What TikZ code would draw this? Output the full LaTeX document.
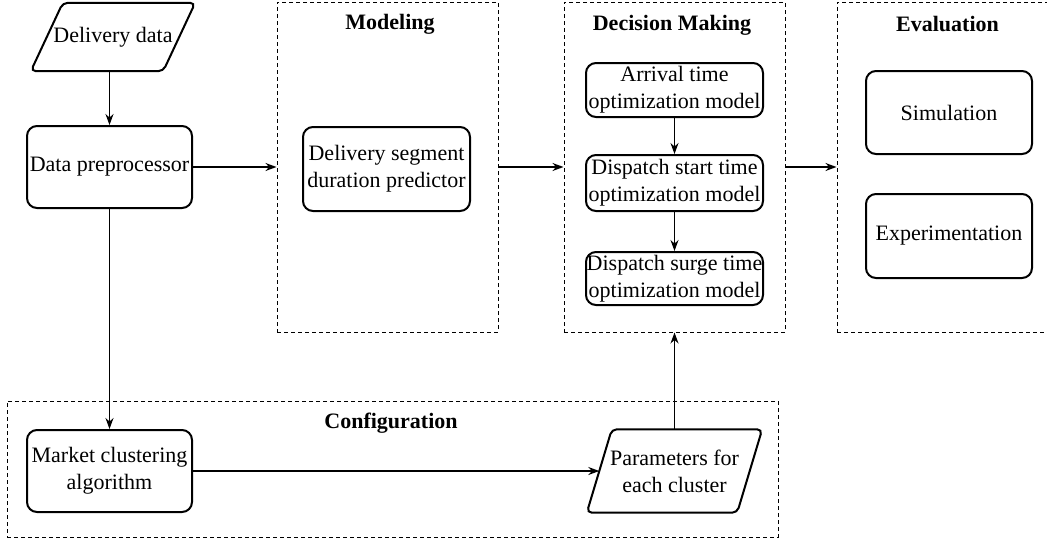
\documentclass[tikz,border=0pt]{standalone}
\usepackage{fontspec}
\setmainfont{Liberation Serif}
\usetikzlibrary{calc,arrows.meta}
\begin{document}
\begin{tikzpicture}[x=1pt,y=-1pt,
  every node/.style={font=\fontsize{22}{27}\selectfont, align=center, inner sep=0pt},
  procbox/.style={draw, line width=2pt, rounded corners=10pt},
  groupbox/.style={draw, dash pattern=on 4pt off 3pt, line width=1pt},
  titletext/.style={font=\fontsize{22}{27}\selectfont\bfseries},
  arr/.style={-{Stealth[length=11pt,width=8pt]}, line width=1.3pt},
  para/.style={line width=2pt, rounded corners=5pt}]
\useasboundingbox (0,0) rectangle (1047,544);
\clip (0,0) rectangle (1047,544);
% group boxes
\node[groupbox, minimum width=221pt, minimum height=330pt] (gmod) at (387.5,167) {};
\node[groupbox, minimum width=221pt, minimum height=330pt] (gdm) at (674.5,167) {};
\node[groupbox, minimum width=221pt, minimum height=330pt] (geval) at (947.5,167) {};
\node[groupbox, minimum width=771pt, minimum height=136pt] (gconf) at (392.5,469) {};
% titles
\node[titletext] (tmod) at (390,24) {Modeling};
\node[titletext] (tdm) at (672,25) {Decision Making};
\node[titletext] (teval) at (947.5,24) {Evaluation};
\node[titletext] (tconf) at (391,423) {Configuration};
% delivery data parallelogram
\node[minimum width=164pt, minimum height=68pt] (dd) at (113,37) {Delivery data};
\draw[para] (dd.south west) -- ($(dd.north west)+(32,0)$) -- (dd.north east) -- ($(dd.south east)+(-32,0)$) -- cycle;
% process boxes
\node[procbox, minimum width=165pt, minimum height=82pt] (dp) at (109.5,167) {Data preprocessor};
\node[procbox, minimum width=167pt, minimum height=84pt] (dsp) at (386.5,169) {Delivery segment\\duration predictor};
\node[procbox, minimum width=177pt, minimum height=54pt] (atm) at (674.5,90) {Arrival time\\optimization model};
\node[procbox, minimum width=177pt, minimum height=56pt] (dst) at (674.5,183) {Dispatch start time\\optimization model};
\node[procbox, minimum width=177pt, minimum height=53pt] (dsu) at (674.5,278.5) {Dispatch surge time\\optimization model};
\node[procbox, minimum width=166pt, minimum height=83pt] (sim) at (949,112.5) {Simulation};
\node[procbox, minimum width=166pt, minimum height=84pt] (exp) at (949,236) {Experimentation};
\node[procbox, minimum width=165pt, minimum height=82pt] (mca) at (109.5,471) {Market clustering\\algorithm};
% parameters parallelogram
\node[minimum width=175pt, minimum height=83pt] (pp) at (674.5,471) {Parameters for\\each cluster};
\draw[para] (pp.south west) -- ($(pp.north west)+(25,0)$) -- (pp.north east) -- ($(pp.south east)+(-25,0)$) -- cycle;
\coordinate (ppin) at ($(pp.west)+(12.5,0)$);
% connectors
\draw[arr] (dd.south -| dp.north) -- (dp.north);
\draw[arr] (dp.east) -- (gmod.west);
\draw[arr] (gmod.east) -- (gdm.west);
\draw[arr] (gdm.east) -- (geval.west);
\draw[arr] (atm.south) -- (dst.north);
\draw[arr] (dst.south) -- (dsu.north);
\draw[arr] (dp.south) -- (mca.north);
\draw[arr] (mca.east) -- (ppin);
\draw[arr] (pp.north) -- (gdm.south);
\end{tikzpicture}
\end{document}
